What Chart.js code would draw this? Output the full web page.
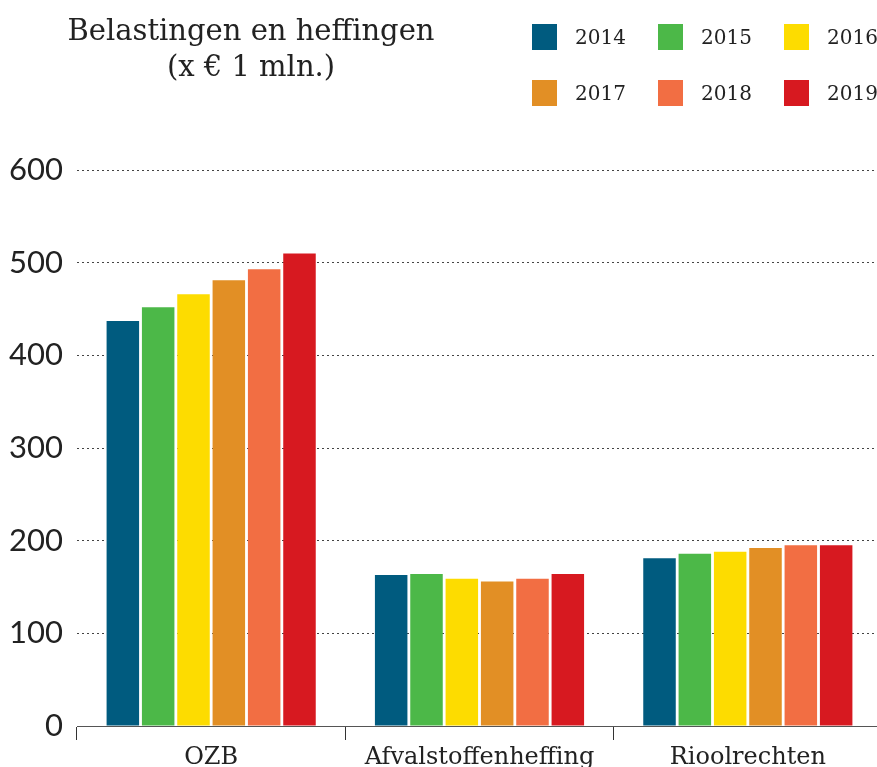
<!DOCTYPE html>
<html lang="nl">
<head>
<meta charset="utf-8">
<title>Belastingen en heffingen</title>
<script src="https://cdn.jsdelivr.net/npm/chart.js@4.4.1/dist/chart.umd.min.js"></script>
<style>
  html, body { margin: 0; padding: 0; background: #fff; overflow: hidden; }
  body { width: 877px; height: 767px; position: relative; }
  #wrap { position: absolute; left: 0; top: 0; width: 882px; height: 767px; }
  #title {
    position: absolute; left: 30px; top: 12px; width: 442px;
    text-align: center; font-family: "DejaVu Serif", serif; font-size: 29px;
    line-height: 36px; color: #222;
  }
  #legend {
    position: absolute; left: 532px; top: 24px; width: 345px;
    display: grid; grid-template-columns: 126px 126px 93px; row-gap: 30px;
    font-family: "DejaVu Serif", serif; font-size: 20px; color: #222;
  }
  .item { display: flex; align-items: center; height: 26px; }
  .sw { width: 25px; height: 26px; margin-right: 18px; flex: none; }
</style>
</head>
<body>
<div id="wrap"><canvas id="chart" width="882" height="767"></canvas></div>
<div id="title">Belastingen en heffingen<br>(x € 1 mln.)</div>
<div id="legend"></div>

<script>
// ─── Data ─────────────────────────────────────────────────
const categories = ['OZB', 'Afvalstoffenheffing', 'Rioolrechten'];
const years = ['2014', '2015', '2016', '2017', '2018', '2019'];
const yearColors = ['#005b7f', '#4cb848', '#fddc00', '#e28f25', '#f26e43', '#d71920'];

const values2014 = [437, 163, 181];
const values2015 = [452, 164, 186];
const values2016 = [466, 159, 188];
const values2017 = [481, 156, 192];
const values2018 = [493, 159, 195];
const values2019 = [510, 164, 195];
const seriesValues = [values2014, values2015, values2016, values2017, values2018, values2019];

const yTicks = [0, 100, 200, 300, 400, 500, 600];

// ─── Legend (HTML) ────────────────────────────────────────
const legendEl = document.getElementById('legend');
years.forEach((y, i) => {
  const it = document.createElement('div');
  it.className = 'item';
  it.innerHTML = `<span class="sw" style="background:${yearColors[i]}"></span><span>${y}</span>`;
  legendEl.appendChild(it);
});

// ─── Chart ────────────────────────────────────────────────
new Chart(document.getElementById('chart'), {
  type: 'bar',
  data: {
    labels: categories,
    datasets: years.map((y, i) => ({
      label: y,
      data: seriesValues[i],
      backgroundColor: yearColors[i],
      borderWidth: 0,
      categoryPercentage: 0.79,
      barPercentage: 0.92,
    }))
  },
  options: {
    responsive: false,
    animation: false,
    layout: { padding: { top: 170, right: 0, bottom: 0, left: 0 } },
    plugins: { legend: { display: false }, tooltip: { enabled: false } },
    scales: {
      x: {
        grid: { drawOnChartArea: false, drawTicks: true, tickLength: 14, color: '#333', lineWidth: 1 },
        border: { display: true, color: '#555', width: 1 },
        ticks: { color: '#222', padding: 3, font: { family: 'DejaVu Serif', size: 24 } },
        afterFit: (scale) => { scale.height = 41; }
      },
      y: {
        min: 0, max: 600,
        afterBuildTicks: (scale) => { scale.ticks = yTicks.map(v => ({ value: v })); },
        grid: { color: '#444', lineWidth: 1, drawTicks: false },
        border: { display: false, dash: [2, 3] },
        ticks: { color: '#222', padding: 14, font: { family: 'Lato', size: 31 } },
        afterFit: (scale) => { scale.width = 77; }
      }
    }
  }
});
</script>
</body>
</html>
